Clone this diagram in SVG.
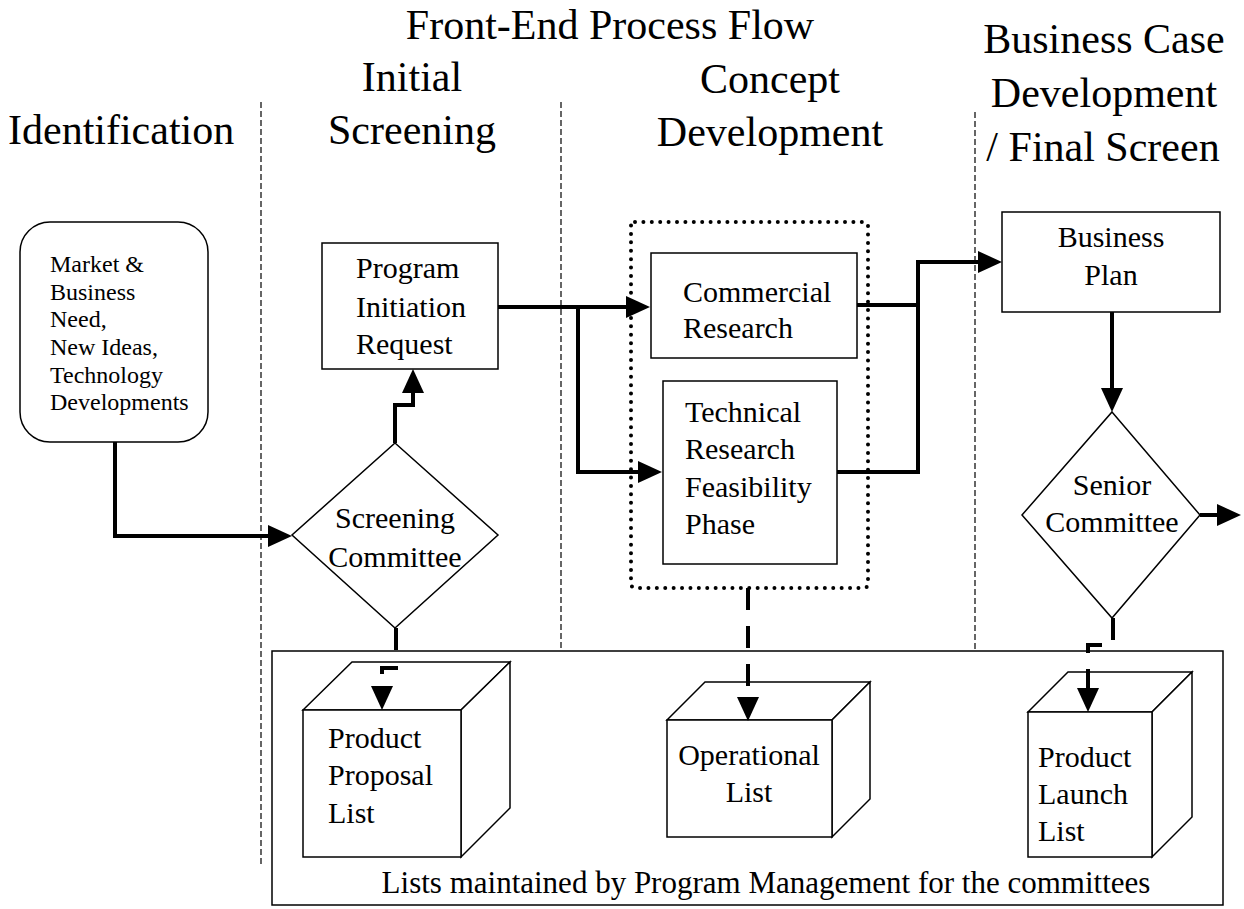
<svg xmlns="http://www.w3.org/2000/svg" width="1244" height="909" viewBox="0 0 1244 909">
<style>
text { font-family: "Liberation Serif", "Times New Roman", serif; fill: #000; }
.h { font-size: 42px; }
.t { font-size: 30px; }
.b { font-size: 31px; }
.s { font-size: 24px; }
.mid { text-anchor: middle; }
.box { fill: #fff; stroke: #000; stroke-width: 1.5; }
.lane { fill: none; stroke: #000; stroke-width: 1.2; stroke-dasharray: 6 3; }
.flow { fill: none; stroke: #000; stroke-width: 4; stroke-linejoin: miter; }
.dflow { fill: none; stroke: #000; stroke-width: 4; stroke-dasharray: 22 16; }
</style>
<defs>
<marker id="ah" markerUnits="userSpaceOnUse" markerWidth="24" markerHeight="22" viewBox="0 0 24 22" refX="0" refY="11" orient="auto">
<path d="M0,0 L24,11 L0,22 Z" fill="#000"/>
</marker>
</defs>
<rect width="1244" height="909" fill="#fff"/>

<g id="headers">
<text class="h mid" x="610" y="39">Front-End Process Flow</text>
<text class="h" x="8" y="144">Identification</text>
<text class="h mid" x="412" y="91">Initial</text>
<text class="h mid" x="412" y="144">Screening</text>
<text class="h mid" x="770" y="93">Concept</text>
<text class="h mid" x="770" y="146">Development</text>
<text class="h mid" x="1104" y="53">Business Case</text>
<text class="h mid" x="1104" y="107">Development</text>
<text class="h mid" x="1103" y="161">/ Final Screen</text>
</g>

<g id="lanes">
<line class="lane" x1="261" y1="102" x2="261" y2="866"/>
<line class="lane" x1="561" y1="102" x2="561" y2="866"/>
<line class="lane" x1="975" y1="112" x2="975" y2="866"/>
</g>

<g id="lists-frame">
<rect class="box" x="272" y="651" width="951" height="254" fill="none"/>
<text class="b mid" x="766" y="893">Lists maintained by Program Management for the committees</text>
</g>

<g id="market-need">
<rect class="box" x="20" y="222" width="188" height="220" rx="30"/>
<text class="s" x="50" y="272">Market &amp;</text>
<text class="s" x="50" y="300">Business</text>
<text class="s" x="50" y="327">Need,</text>
<text class="s" x="50" y="355">New Ideas,</text>
<text class="s" x="50" y="383">Technology</text>
<text class="s" x="50" y="410">Developments</text>
</g>

<g id="screening-committee">
<polygon class="box" points="395,443 498,535 395,628 292,535"/>
<text class="t mid" x="395" y="528">Screening</text>
<text class="t mid" x="395" y="567">Committee</text>
</g>

<g id="program-initiation-request">
<rect class="box" x="322" y="243" width="176" height="126"/>
<text class="t" x="356" y="278">Program</text>
<text class="t" x="356" y="317">Initiation</text>
<text class="t" x="356" y="354">Request</text>
</g>

<g id="concept-group">
<rect x="631" y="222" width="237" height="366" rx="4" fill="none" stroke="#000" stroke-width="4" stroke-linecap="round" stroke-dasharray="0 8.4"/>
</g>

<g id="commercial-research">
<rect class="box" x="651" y="253" width="206" height="105"/>
<text class="t" x="683" y="302">Commercial</text>
<text class="t" x="683" y="338">Research</text>
</g>

<g id="technical-research">
<rect class="box" x="663" y="381" width="174" height="183"/>
<text class="t" x="685" y="422">Technical</text>
<text class="t" x="685" y="459">Research</text>
<text class="t" x="685" y="497">Feasibility</text>
<text class="t" x="685" y="534">Phase</text>
</g>

<g id="business-plan">
<rect class="box" x="1002" y="212" width="218" height="100"/>
<text class="t mid" x="1111" y="247">Business</text>
<text class="t mid" x="1111" y="285">Plan</text>
</g>

<g id="senior-committee">
<polygon class="box" points="1112,412 1200,515 1112,618 1022,515"/>
<text class="t mid" x="1112" y="495">Senior</text>
<text class="t mid" x="1112" y="532">Committee</text>
</g>

<g id="product-proposal-list">
<polygon class="box" points="303,710 352,662 510,662 461,710"/>
<polygon class="box" points="461,710 510,662 510,808 461,857"/>
<rect class="box" x="303" y="710" width="158" height="147"/>
<text class="t" x="328" y="748">Product</text>
<text class="t" x="328" y="785">Proposal</text>
<text class="t" x="328" y="823">List</text>
</g>

<g id="operational-list">
<polygon class="box" points="667,720 705,682 870,682 832,720"/>
<polygon class="box" points="832,720 870,682 870,799 832,837"/>
<rect class="box" x="667" y="720" width="165" height="117"/>
<text class="t mid" x="749" y="765">Operational</text>
<text class="t mid" x="749" y="802">List</text>
</g>

<g id="product-launch-list">
<polygon class="box" points="1028,712 1068,672 1192,672 1152,712"/>
<polygon class="box" points="1152,712 1192,672 1192,817 1152,857"/>
<rect class="box" x="1028" y="712" width="124" height="145"/>
<text class="t" x="1038" y="767">Product</text>
<text class="t" x="1038" y="804">Launch</text>
<text class="t" x="1038" y="841">List</text>
</g>

<g id="connectors">
<path class="flow" d="M115,442 V536 H268" marker-end="url(#ah)"/>
<path class="flow" d="M395,443 V405 H413 V393" marker-end="url(#ah)"/>
<path class="flow" d="M498,307 H626" marker-end="url(#ah)"/>
<path class="flow" d="M578,307 V472 H638" marker-end="url(#ah)"/>
<path class="flow" d="M857,305 H918"/>
<path class="flow" d="M837,472 H918 V262 H978" marker-end="url(#ah)"/>
<path class="flow" d="M1112,312 V388" marker-end="url(#ah)"/>
<path class="flow" d="M1200,515 H1217" marker-end="url(#ah)"/>
<path class="dflow" d="M396,628 V668 H382 V686" marker-end="url(#ah)"/>
<path class="dflow" d="M748,588 V697" marker-end="url(#ah)"/>
<path class="dflow" d="M1113,618 V645 H1088 V688" marker-end="url(#ah)"/>
</g>
</svg>
